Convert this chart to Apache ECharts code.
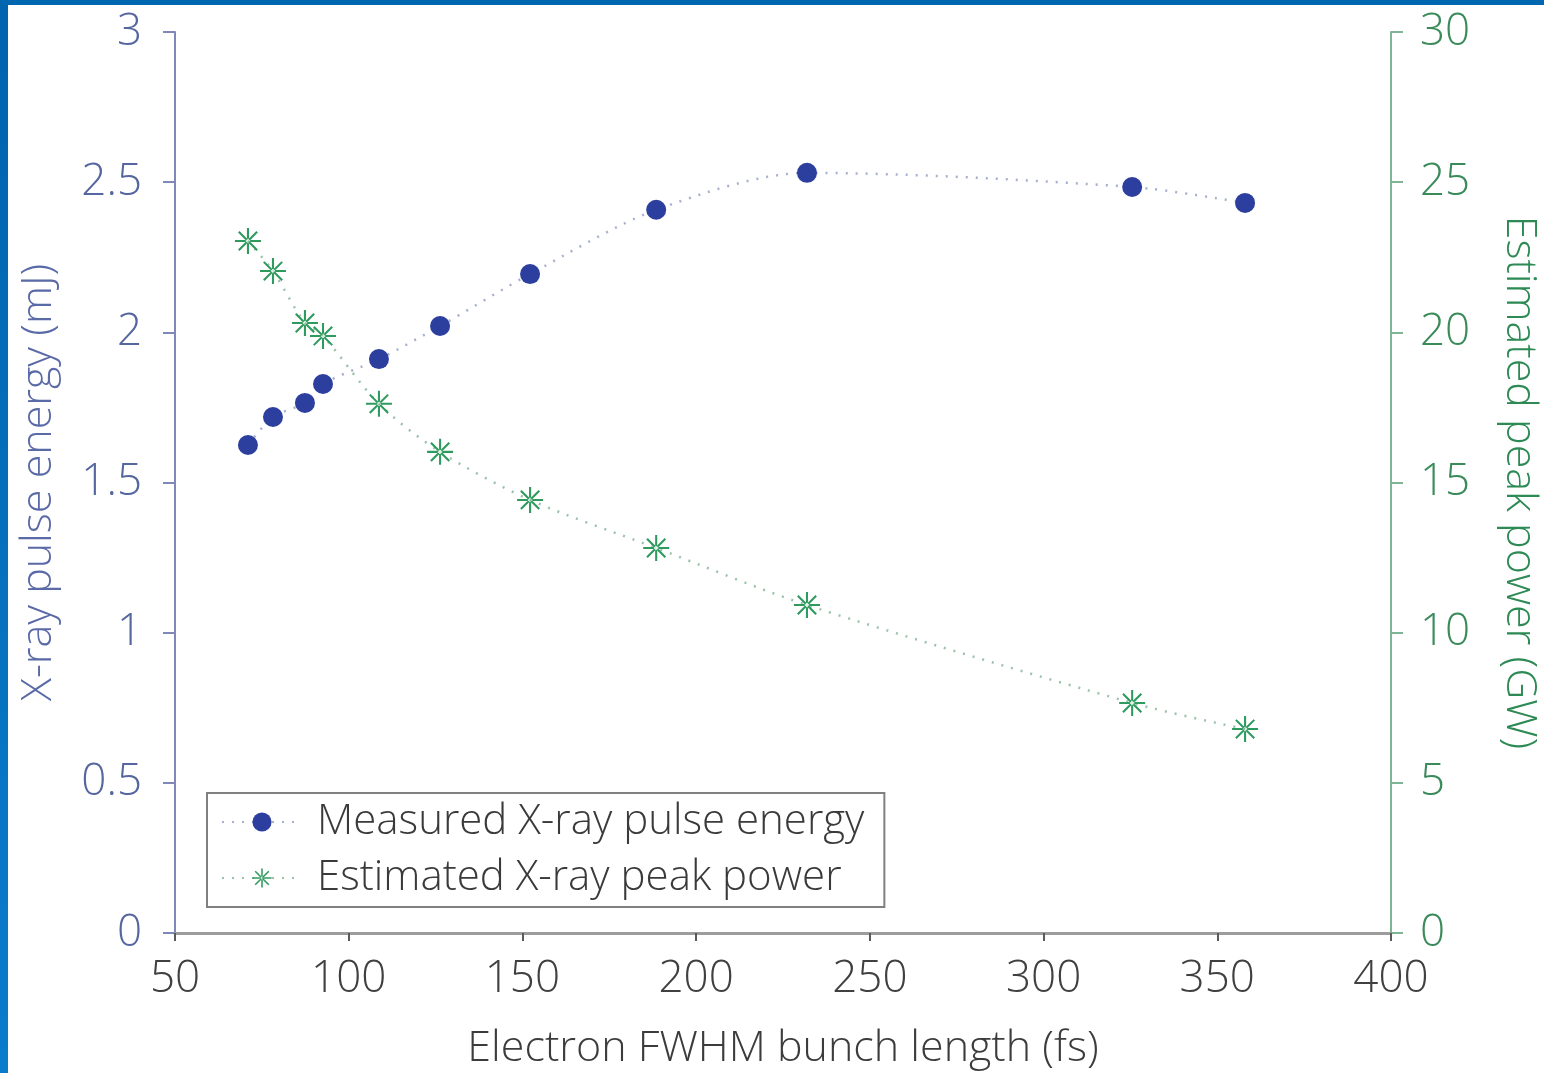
<!DOCTYPE html>
<html>
<head>
<meta charset="utf-8">
<script src="https://cdn.jsdelivr.net/npm/echarts@6/dist/echarts.min.js"></script>
<style>
html,body{margin:0;padding:0;background:#fff;overflow:hidden;}
#chart{position:absolute;left:0;top:0;width:1544px;height:1073px;}
#fl{position:absolute;left:0;top:0;width:8px;height:1073px;background:linear-gradient(#0063ad,#0a7ccc);}
#ft{position:absolute;left:0;top:0;width:1544px;height:5px;background:#0066b0;}
</style>
</head>
<body>
<div id="chart"></div>
<div id="fl"></div>
<div id="ft"></div>
<script>
const bunchLength = [71.0, 78.2, 87.4, 92.6, 108.7, 126.3, 152.2, 188.5, 231.9, 325.5, 358.0];
const pulseEnergy = [1.625, 1.718, 1.765, 1.828, 1.911, 2.021, 2.194, 2.408, 2.531, 2.484, 2.431];
const peakPower = [23.04, 22.04, 20.31, 19.88, 17.62, 16.02, 14.42, 12.82, 10.92, 7.66, 6.79];
const seriesNames = ['Measured X-ray pulse energy', 'Estimated X-ray peak power'];
const xTitle = 'Electron FWHM bunch length (fs)';
const yLeftTitle = 'X-ray pulse energy (mJ)';
const yRightTitle = 'Estimated peak power (GW)';

const FONT = '"Open Sans", "Noto Sans", sans-serif';
const blue = '#2c3f9e';
const green = '#2f9a5e';
const star = 'path://M-1,-0.08L1,-0.08L1,0.08L-1,0.08Z M-0.08,-1L0.08,-1L0.08,1L-0.08,1Z M0.65,0.764L0.764,0.65L-0.65,-0.764L-0.764,-0.65Z M0.764,-0.65L0.65,-0.764L-0.764,0.65L-0.65,0.764Z';

const chart = echarts.init(document.getElementById('chart'), null, {renderer: 'canvas'});
chart.setOption({
  animation: false,
  textStyle: {fontFamily: FONT},
  grid: {left: 175, right: 153, top: 32, bottom: 140, containLabel: false, outerBoundsMode: 'none'},
  legend: {
    orient: 'vertical',
    left: 207, top: 793,
    padding: [8, 20, 8, 14],
    itemGap: 14,
    itemWidth: 80, itemHeight: 24,
    borderColor: '#808080', borderWidth: 2,
    textStyle: {fontFamily: FONT, fontSize: 42, color: '#3a3a3a', fontWeight: 300, padding: [0, 0, 0, 10]},
    data: [
      {name: seriesNames[0]},
      {name: seriesNames[1]}
    ]
  },
  xAxis: [{
    type: 'value', min: 50, max: 400, interval: 50,
    name: xTitle, nameLocation: 'middle', nameGap: 94,
    nameTextStyle: {fontFamily: FONT, fontSize: 43, color: '#3c3c3c', fontWeight: 300},
    axisLine: {onZero: false, lineStyle: {color: '#5a5a5a', width: 2}},
    axisTick: {show: true, length: 8, lineStyle: {color: '#5a5a5a', width: 2}},
    axisLabel: {fontFamily: FONT, fontSize: 44, color: '#404040', fontWeight: 300, margin: 24},
    splitLine: {show: false}
  }, {
    type: 'value', min: 50, max: 400, position: 'top',
    axisLine: {show: true, lineStyle: {color: '#9c9c9c', width: 3}},
    axisTick: {show: false}, axisLabel: {show: false}, splitLine: {show: false}
  }],
  yAxis: [{
    type: 'value', min: 0, max: 3, interval: 0.5, position: 'left',
    name: yLeftTitle, nameLocation: 'middle', nameGap: 115, nameRotate: 90,
    nameTextStyle: {fontFamily: FONT, fontSize: 43, color: '#5a6aa6', fontWeight: 300},
    axisLine: {show: true, onZero: false, lineStyle: {color: '#7f88b8', width: 2}},
    axisTick: {show: true, length: 12, lineStyle: {color: '#7f88b8', width: 2}},
    axisLabel: {fontFamily: FONT, fontSize: 44, color: '#56669e', fontWeight: 300, margin: 33},
    splitLine: {show: false}
  }, {
    type: 'value', min: 0, max: 30, interval: 5, position: 'right',
    name: yRightTitle, nameLocation: 'middle', nameGap: 107, nameRotate: -90,
    nameTextStyle: {fontFamily: FONT, fontSize: 43, color: '#2e8a55', fontWeight: 300},
    axisLine: {show: true, onZero: false, lineStyle: {color: '#7fb595', width: 2}},
    axisTick: {show: true, length: 12, lineStyle: {color: '#7fb595', width: 2}},
    axisLabel: {fontFamily: FONT, fontSize: 44, color: '#3a8a5a', fontWeight: 300, margin: 29},
    splitLine: {show: false}
  }],
  series: [{
    name: seriesNames[0], type: 'line', xAxisIndex: 0, yAxisIndex: 0,
    data: bunchLength.map((x, i) => [x, pulseEnergy[i]]),
    smooth: 0.3,
    symbol: 'circle', symbolSize: 20,
    itemStyle: {color: blue},
    lineStyle: {color: '#a8b0cc', width: 2.5, type: [2, 8]}
  }, {
    name: seriesNames[1], type: 'line', xAxisIndex: 0, yAxisIndex: 1,
    data: bunchLength.map((x, i) => [x, peakPower[i]]),
    smooth: 0.3,
    symbol: star, symbolSize: 26,
    itemStyle: {color: green},
    lineStyle: {color: '#9cc2aa', width: 2.5, type: [2, 8]}
  }]
});
</script>
</body>
</html>
